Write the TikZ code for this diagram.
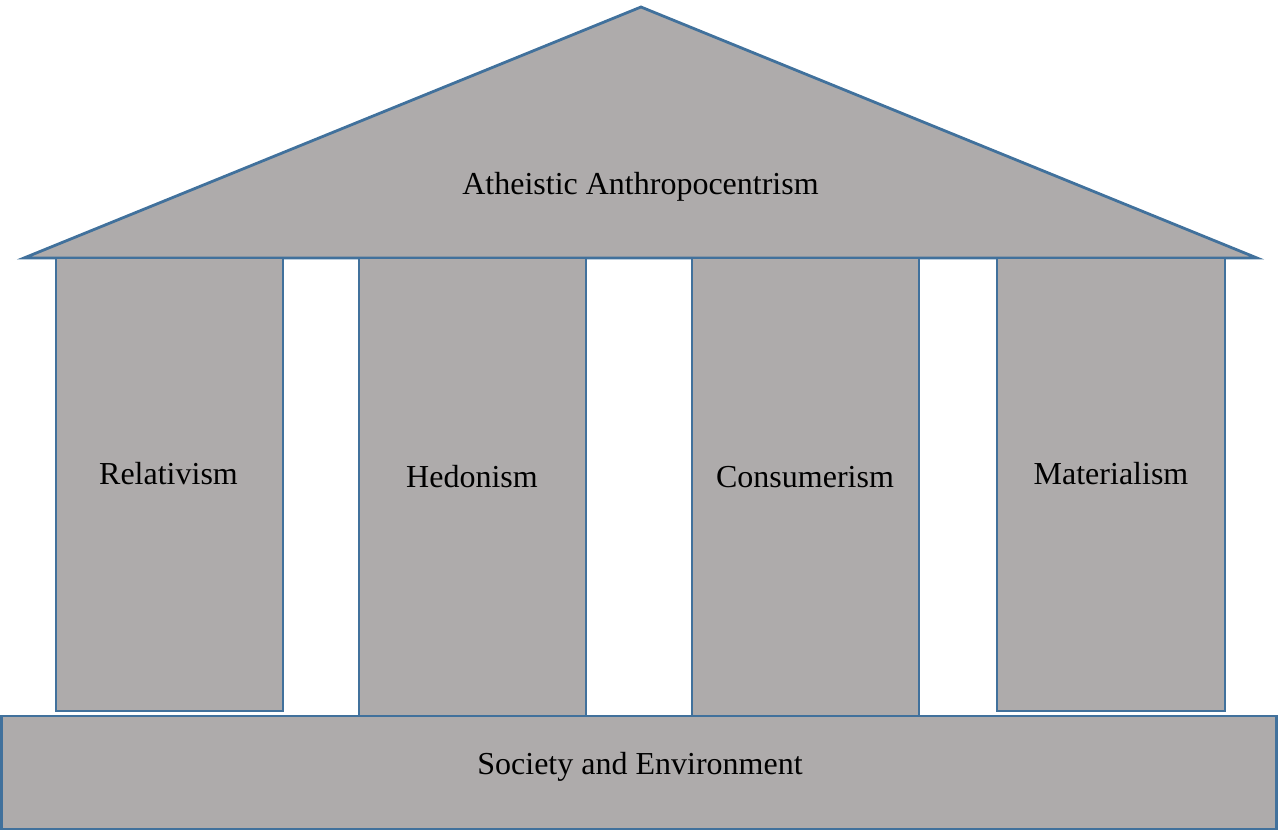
\documentclass[tikz,border=0pt]{standalone}
\usepackage{fontspec}
\setmainfont{Liberation Serif}
\definecolor{fillgray}{HTML}{AEABAB}
\definecolor{edgeblue}{HTML}{41719C}
\begin{document}
\begin{tikzpicture}[x=1pt,y=-1pt,
  part/.style={fill=fillgray,draw=edgeblue,line width=2.8pt,line join=miter},
  lbl/.style={font=\fontsize{32}{38}\selectfont,inner sep=0pt,anchor=base}]
\useasboundingbox (0,0) rectangle (1278,831);
% roof
\filldraw[part] (24,258) coordinate (rl) -- (641,7) coordinate (apex) -- (1257,258) coordinate (rr) -- cycle;
\node[lbl] (roof) at (640.5,194) {Atheistic Anthropocentrism};
% columns
\filldraw[part] (56,258) rectangle (283,711);
\node[lbl] (c1) at (168.5,484) {Relativism};
\filldraw[part] (359,258) rectangle (586,716);
\node[lbl] (c2) at (472,487) {Hedonism};
\filldraw[part] (692,258) rectangle (919,716);
\node[lbl] (c3) at (805,487) {Consumerism};
\filldraw[part] (997,258) rectangle (1225,711);
\node[lbl] (c4) at (1111,484) {Materialism};
% base
\filldraw[part] (1.5,716) rectangle (1276.5,829);
\node[lbl] (base) at (640,774) {Society and Environment};
\end{tikzpicture}
\end{document}
